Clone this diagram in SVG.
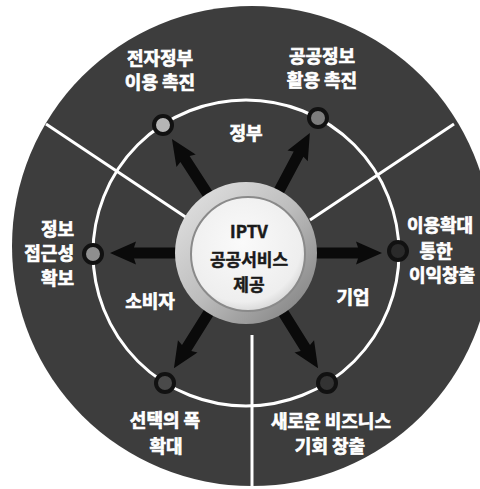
<svg xmlns="http://www.w3.org/2000/svg" xmlns:xlink="http://www.w3.org/1999/xlink" width="480" height="489" viewBox="0 0 480 489">
<style>
.lbl{font-family:"Noto Sans CJK KR","Noto Sans",sans-serif;font-weight:bold;font-size:18px;fill:#ffffff;stroke:#ffffff;stroke-width:0.7;text-anchor:middle}
.ctr{font-family:"Noto Sans CJK KR","Noto Sans",sans-serif;font-weight:bold;font-size:17px;fill:#1a1a1a;stroke:#1a1a1a;stroke-width:0.5;text-anchor:middle}
.div{stroke:#ffffff;stroke-width:3;fill:none}
.dot{stroke:#111111;stroke-width:4}
</style>
<defs>
<linearGradient id="ringG" x1="0" y1="0" x2="1" y2="1">
<stop offset="0" stop-color="#e6e6e6"/>
<stop offset="0.5" stop-color="#bdbdbd"/>
<stop offset="1" stop-color="#7a7a7a"/>
</linearGradient>
<radialGradient id="innerG" cx="0.45" cy="0.4" r="0.65">
<stop offset="0" stop-color="#fafafa"/>
<stop offset="0.8" stop-color="#eeeeee"/>
<stop offset="1" stop-color="#cfcfcf"/>
</radialGradient>
<polygon id="arrow" points="60,-5.5 112,-5.5 110,-11.5 136,0 110,11.5 112,5.5 60,5.5" fill="#0a0a0a"/>
</defs>
<rect width="480" height="489" fill="#ffffff"/>
<circle cx="252" cy="246" r="240" fill="#3d3d3d"/>
<g id="dividers">
<line class="div" x1="46" y1="124" x2="190" y2="220"/>
<line class="div" x1="454" y1="124" x2="310" y2="220"/>
<line class="div" x1="252" y1="335" x2="252" y2="489"/>
</g>
<circle id="orbit" cx="246" cy="253" r="153" fill="none" stroke="#ffffff" stroke-width="3"/>
<g id="connectors">
<use xlink:href="#arrow" href="#arrow" transform="translate(246,253) rotate(-123)"/>
<use xlink:href="#arrow" href="#arrow" transform="translate(246,253) rotate(-62)"/>
<use xlink:href="#arrow" href="#arrow" transform="translate(246,253) rotate(180)"/>
<use xlink:href="#arrow" href="#arrow" transform="translate(246,253) rotate(0)"/>
<use xlink:href="#arrow" href="#arrow" transform="translate(246,253) rotate(122)"/>
<use xlink:href="#arrow" href="#arrow" transform="translate(246,253) rotate(58)"/>
</g>
<g id="center">
<circle cx="246" cy="253" r="71" fill="url(#ringG)"/>
<circle cx="248" cy="254" r="57" fill="url(#innerG)" stroke="#8a8a8a" stroke-width="2"/>
<text class="ctr" x="249" y="238" font-size="18">IPTV</text>
<text class="ctr" x="249" y="266">공공서비스</text>
<text class="ctr" x="249" y="291">제공</text>
</g>
<g id="sector-gov"><text class="lbl" x="246" y="140">정부</text></g>
<g id="sector-consumer"><text class="lbl" x="150" y="308">소비자</text></g>
<g id="sector-biz"><text class="lbl" x="353" y="304">기업</text></g>
<g id="node-egov">
<circle class="dot" cx="163" cy="125" r="9" fill="#b5b5b5"/>
<text class="lbl" x="160" y="65">전자정부</text>
<text class="lbl" x="160" y="89">이용 촉진</text>
</g>
<g id="node-pubinfo">
<circle class="dot" cx="318" cy="118" r="9" fill="#7d7d7d"/>
<text class="lbl" x="322" y="63">공공정보</text>
<text class="lbl" x="322" y="87">활용 촉진</text>
</g>
<g id="node-access">
<circle class="dot" cx="93" cy="254" r="9" fill="#8f8f8f"/>
<text class="lbl" x="74" y="236" style="text-anchor:end">정보</text>
<text class="lbl" x="74" y="260" style="text-anchor:end">접근성</text>
<text class="lbl" x="74" y="285" style="text-anchor:end">확보</text>
</g>
<g id="node-profit">
<circle class="dot" cx="398" cy="251" r="9" fill="#2a2a2a"/>
<text class="lbl" x="440" y="232">이용확대</text>
<text class="lbl" x="436" y="258">통한</text>
<text class="lbl" x="442" y="282">이익창출</text>
</g>
<g id="node-choice">
<circle class="dot" cx="165" cy="383" r="9" fill="#4a4a4a"/>
<text class="lbl" x="165" y="427">선택의 폭</text>
<text class="lbl" x="166" y="453">확대</text>
</g>
<g id="node-newbiz">
<circle class="dot" cx="327" cy="383" r="9" fill="#333333"/>
<text class="lbl" x="331" y="428">새로운 비즈니스</text>
<text class="lbl" x="330" y="453">기회 창출</text>
</g>
</svg>
